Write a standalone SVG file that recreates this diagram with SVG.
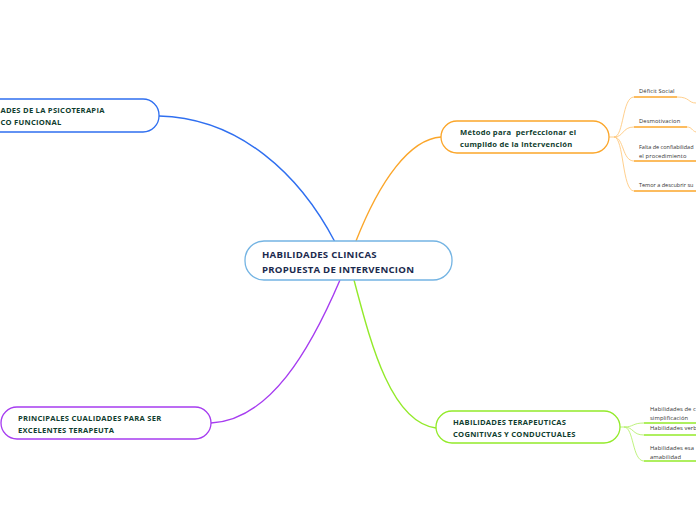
<svg xmlns="http://www.w3.org/2000/svg" width="696" height="520" viewBox="0 0 696 520">
<style>
.node{fill:#fff;stroke-width:1.3}
.t{font-family:"Open Sans","Noto Sans",sans-serif;font-weight:bold;font-size:7.6px;fill:#0f3d2e;letter-spacing:0.25px;white-space:pre}
.tc{font-family:"Open Sans","Noto Sans",sans-serif;font-weight:bold;font-size:9.6px;fill:#1b2a4e;letter-spacing:0.25px}
.s{font-family:"Open Sans","Noto Sans",sans-serif;font-size:5.8px;fill:#333;letter-spacing:0.1px}
.c{fill:none}
</style>
<rect width="696" height="520" fill="#fff"/>
<g id="connectors">
<path class="c" d="M159,116 C240,118 300,175 335,242" stroke="#2f6ff0" stroke-width="1.4"/>
<path class="c" d="M356,241 C380,180 410,139 441,137" stroke="#fba62a" stroke-width="1.4"/>
<path class="c" d="M340,280 C310,350 270,420 211,423" stroke="#a63cf0" stroke-width="1.4"/>
<path class="c" d="M354,280 C370,340 390,422 436,428" stroke="#93ea2a" stroke-width="1.4"/>
<g stroke="#ffca80" stroke-width="0.9" fill="none">
<path d="M609,137 H614"/>
<path d="M614,137 C624,137 622,97 634,97"/>
<path d="M614,137 C624,137 622,127 634,127"/>
<path d="M614,137 C624,137 622,161 634,161"/>
<path d="M614,137 C624,137 622,191 634,191"/>
<path d="M677,97 C690,97 688,103 696,103"/>
<path d="M687,127 C692,127 692,131 696,132"/>
</g>
<g stroke="#fba62a" stroke-width="1.6">
<path d="M634,97 H677"/>
<path d="M634,127 H687"/>
<path d="M634,161 H696"/>
<path d="M634,191 H696"/>
</g>
<g stroke="#b8f070" stroke-width="0.9" fill="none">
<path d="M620,427 H624"/>
<path d="M624,427 C634,427 632,423 644,423"/>
<path d="M624,427 C634,427 632,435 644,435"/>
<path d="M624,427 C634,427 632,461 644,461"/>
</g>
<g stroke="#93ea2a" stroke-width="1.6">
<path d="M644,423 H696"/>
<path d="M644,435 H696"/>
<path d="M644,461 H696"/>
</g>
</g>
<g id="center">
<rect class="node" x="245" y="241" width="207" height="39" rx="19" stroke="#74b4e3"/>
<text class="tc" x="262" y="258">HABILIDADES CLINICAS</text>
<text class="tc" x="262" y="273">PROPUESTA DE INTERVENCION</text>
</g>
<g id="n-psico">
<rect class="node" x="-60" y="99" width="219" height="33" rx="16" stroke="#2f6ff0"/>
<text class="t" x="0.5" y="113">ADES DE LA PSICOTERAPIA</text>
<text class="t" x="0.5" y="125">CO FUNCIONAL</text>
</g>
<g id="n-metodo">
<rect class="node" x="441" y="121" width="168" height="32" rx="16" stroke="#fba62a"/>
<text class="t" x="460" y="135">Método para  perfeccionar el</text>
<text class="t" x="460" y="147">cumplido de la intervención</text>
</g>
<g id="n-cualidades">
<rect class="node" x="1" y="407" width="210" height="32" rx="16" stroke="#a63cf0"/>
<text class="t" x="18" y="421">PRINCIPALES CUALIDADES PARA SER</text>
<text class="t" x="18" y="433">EXCELENTES TERAPEUTA</text>
</g>
<g id="n-terapeuticas">
<rect class="node" x="436" y="411" width="184" height="32" rx="16" stroke="#93ea2a"/>
<text class="t" x="453" y="425">HABILIDADES TERAPEUTICAS</text>
<text class="t" x="453" y="437">COGNITIVAS Y CONDUCTUALES</text>
</g>
<g id="sub-deficit"><text class="s" x="639" y="93">Déficit Social</text></g>
<g id="sub-desmot"><text class="s" x="639" y="123">Desmotivacion</text></g>
<g id="sub-falta"><text class="s" x="639" y="149" style="font-size:5.5px;letter-spacing:0">Falta de confiabilidad</text><text class="s" x="639" y="158">el procedimiento</text></g>
<g id="sub-temor"><text class="s" x="639" y="187" style="font-size:5.5px;letter-spacing:0">Temor a descubrir su</text></g>
<g id="sub-hab1"><text class="s" x="650" y="411">Habilidades de c</text><text class="s" x="650" y="420">simplificación</text></g>
<g id="sub-hab2"><text class="s" x="650" y="430">Habilidades verb</text></g>
<g id="sub-hab3"><text class="s" x="650" y="450">Habilidades esa</text><text class="s" x="650" y="459">amabilidad</text></g>
</svg>
